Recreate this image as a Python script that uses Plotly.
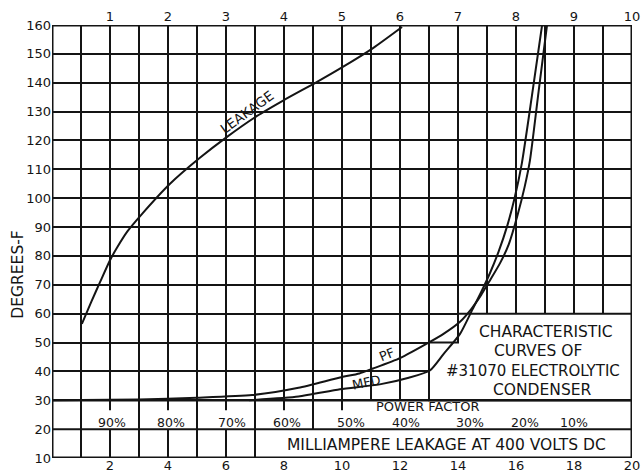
import plotly.graph_objects as go

# ---------------- data ----------------
# x in milliampere-leakage units (bottom scale 0..20), y in degrees F
leak_x = [1.03, 1.35, 1.66, 2.0, 2.25, 2.6, 3.1, 4.07, 5.1, 6.0, 7.07, 8.0, 9.14, 10.0, 11.07, 12.07]
leak_y = [56.5, 64.0, 71.0, 78.5, 83.0, 88.5, 94.5, 105.0, 114.0, 121.0, 128.5, 134.0, 140.3, 145.3, 152.0, 159.3]

pf_x = [0, 3, 5, 6.9, 8.5, 9.93, 10.6, 11.07, 12.0, 13.03, 13.5, 14.07, 14.45, 14.8, 15.1, 15.45, 15.75, 16.05, 16.3, 16.48, 16.78, 17.07]
pf_y = [30, 30.3, 30.9, 31.8, 34.3, 37.9, 39.3, 41, 44.6, 50.2, 53, 57.2, 61.5, 66.5, 71.5, 77.5, 84, 94, 104, 113, 137, 160]

mfd_x = [6.8, 8.5, 9.93, 11.3, 12.3, 13.03, 13.5, 14.07, 14.5, 14.8, 15.1, 15.4, 15.7, 15.95, 16.2, 16.55, 16.9]
mfd_y = [30, 31.3, 33.8, 35.5, 37.8, 40.3, 46, 53, 61.5, 67.5, 74, 81.5, 90.5, 100, 112, 135.5, 160]

y_ticks = list(range(10, 161, 10))
bottom_ticks = list(range(0, 21))
top_ticks = list(range(1, 11))

pf_labels = ["90%", "80%", "70%", "60%", "50%", "40%", "30%", "20%", "10%"]
pf_label_pos = [2.07, 4.1, 6.2, 8.1, 10.3, 12.2, 14.4, 16.3, 18.0]

# structure of the lower (scale) rows
pf_row_lines = [1, 3, 5, 7, 9]
pf_row_ticks = [2, 4, 6, 8, 10]
ma_row_lines = [1, 2, 3, 4, 5, 6, 7]

INK = "#141414"
FONT = "DejaVu Sans"

fig = go.Figure()

for xs, ys in [(leak_x, leak_y), (pf_x, pf_y), (mfd_x, mfd_y)]:
    fig.add_trace(go.Scatter(x=xs, y=ys, mode="lines",
                             line=dict(color=INK, width=2, shape="spline", smoothing=0.6),
                             hoverinfo="skip"))

# dummy trace for the top scale
fig.add_trace(go.Scatter(x=[0, 10], y=[10, 10], xaxis="x2", mode="markers",
                         marker=dict(opacity=0), hoverinfo="skip"))

shapes = []
shapes.append(dict(type="rect", xref="x", yref="y", x0=0, x1=20, y0=10, y1=29.8,
                   fillcolor="white", line=dict(width=0), layer="between"))
shapes.append(dict(type="path", xref="x", yref="y",
                   path="M 13,30 L 20,30 L 20,60 L 14,60 L 14,50 L 13,50 Z",
                   fillcolor="white", line=dict(color=INK, width=2), layer="between"))
shapes.append(dict(type="line", xref="x", yref="y", x0=0, x1=20, y0=30, y1=30,
                   line=dict(color=INK, width=2.5), layer="between"))
shapes.append(dict(type="line", xref="x", yref="y", x0=0, x1=20, y0=20, y1=20,
                   line=dict(color=INK, width=2), layer="between"))
for v in pf_row_lines:
    shapes.append(dict(type="line", xref="x", yref="y", x0=v, x1=v, y0=20, y1=30,
                       line=dict(color=INK, width=2), layer="between"))
for v in pf_row_ticks:
    shapes.append(dict(type="line", xref="x", yref="y", x0=v, x1=v, y0=26.5, y1=30,
                       line=dict(color=INK, width=2), layer="between"))
for v in ma_row_lines:
    shapes.append(dict(type="line", xref="x", yref="y", x0=v, x1=v, y0=10, y1=20,
                       line=dict(color=INK, width=2), layer="between"))
shapes.append(dict(type="rect", xref="x", yref="y", x0=0, x1=20, y0=10, y1=160,
                   line=dict(color=INK, width=3), layer="above"))

ann = []
def txt(x, y, s, size=13, angle=0):
    ann.append(dict(x=x, y=y, xref="x", yref="y", text=s, showarrow=False,
                    textangle=angle, font=dict(family=FONT, size=size, color=INK)))

for lab, pos in zip(pf_labels, pf_label_pos):
    txt(pos, 22.3, lab, size=12.5)
txt(12.95, 27.7, "POWER FACTOR", size=13)
txt(13.6, 14.6, "MILLIAMPERE LEAKAGE AT 400 VOLTS DC", size=15.5)
txt(17.05, 53.8, "CHARACTERISTIC", size=15.5)
txt(16.75, 47.2, "CURVES OF", size=15.5)
txt(16.6, 40.3, "#31070 ELECTROLYTIC", size=15)
txt(16.9, 33.4, "CONDENSER", size=15.5)
txt(6.72, 129.8, "LEAKAGE", size=13.5, angle=-36)
txt(11.55, 46.0, "PF", size=13, angle=-22)
txt(10.83, 36.3, "MFD", size=13, angle=-12)
ann.append(dict(x=-0.0586, y=73.5, xref="paper", yref="y", xanchor="center",
                text="DEGREES-F", showarrow=False, textangle=-90,
                font=dict(family=FONT, size=15.5, color=INK)))

fig.update_layout(
    width=644, height=476,
    margin=dict(l=52, r=12, t=25, b=18),
    plot_bgcolor="white", paper_bgcolor="white",
    showlegend=False,
    shapes=shapes, annotations=ann,
    font=dict(family=FONT, color=INK),
    xaxis=dict(range=[0, 20], tickvals=bottom_ticks,
               ticktext=[str(v) if (v % 2 == 0 and v > 0) else "" for v in bottom_ticks],
               showgrid=True, gridcolor=INK, gridwidth=2, zeroline=False,
               ticks="", showline=False, automargin=False, ticklabelstandoff=-2,
               tickfont=dict(family=FONT, size=13, color=INK)),
    xaxis2=dict(range=[0, 10], overlaying="x", side="top", tickvals=top_ticks,
                showgrid=False, zeroline=False, ticks="", showline=False, automargin=False,
                tickfont=dict(family=FONT, size=13, color=INK)),
    yaxis=dict(range=[10, 160], tickvals=y_ticks,
               showgrid=True, gridcolor=INK, gridwidth=2, zeroline=False,
               ticks="", showline=False, automargin=False,
               tickfont=dict(family=FONT, size=13, color=INK)),
)

fig.write_html("out.html", config={"displayModeBar": False},
               post_script="document.body.style.margin='0';")
